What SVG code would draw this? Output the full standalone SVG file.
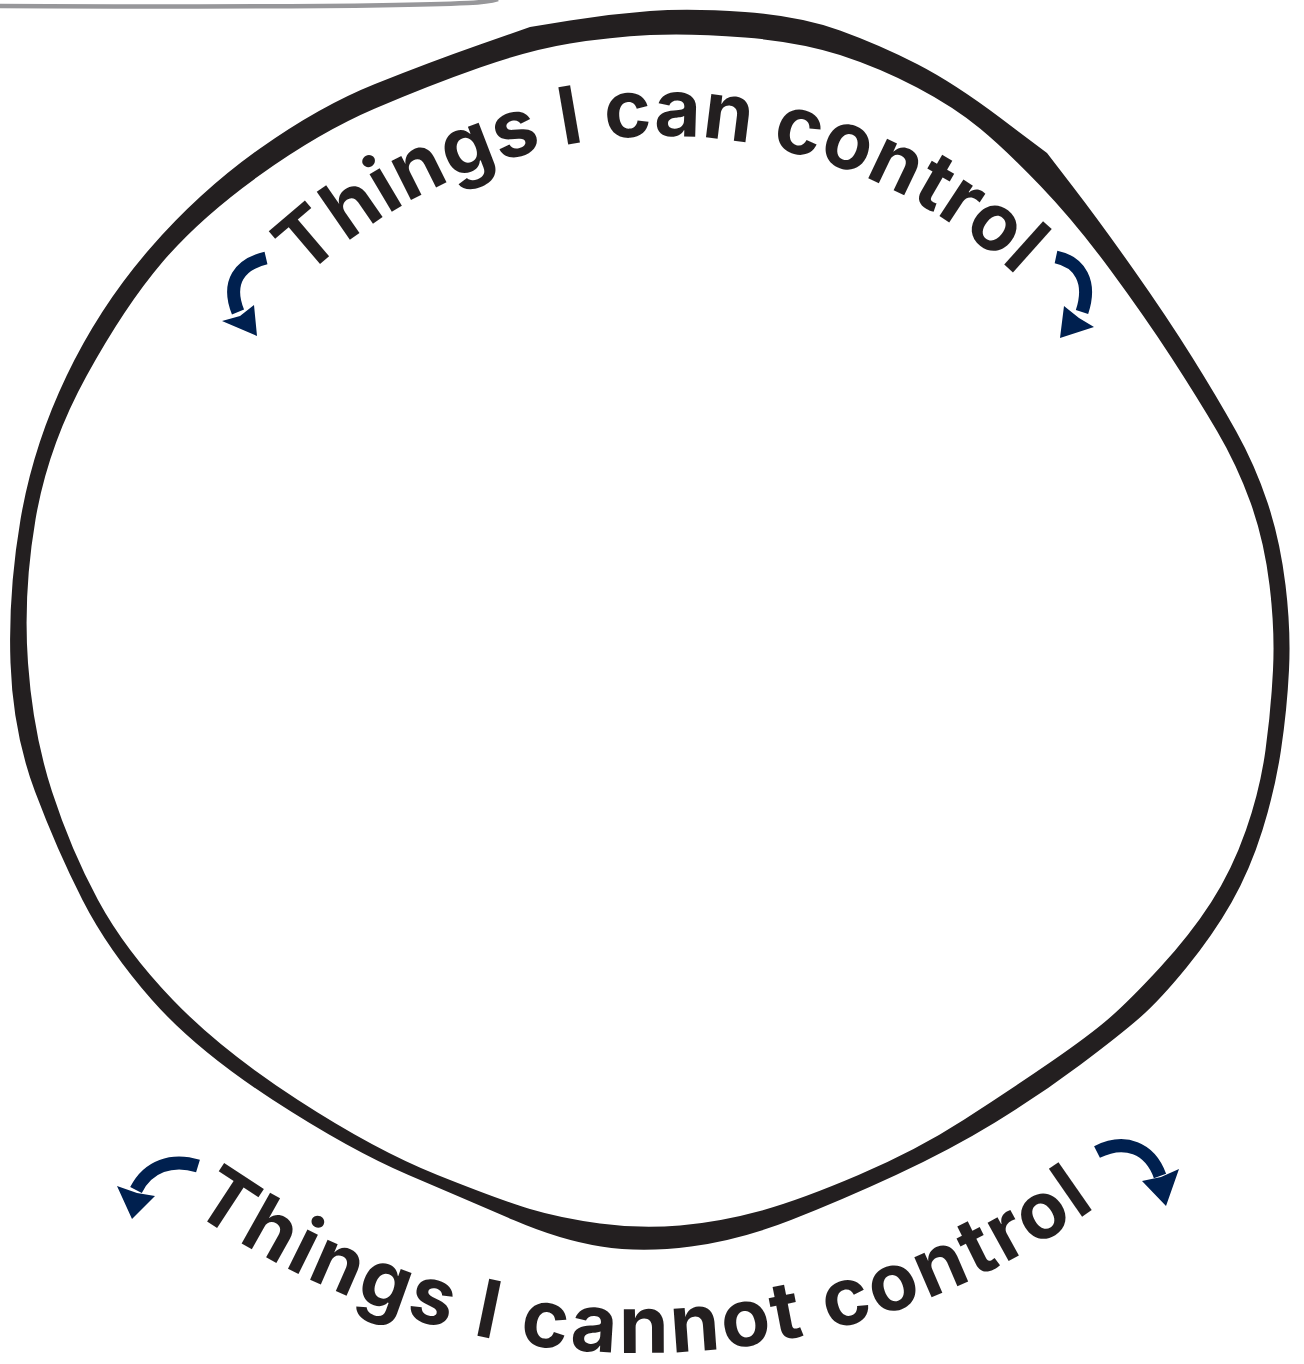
<svg xmlns="http://www.w3.org/2000/svg" width="1304" height="1364" viewBox="0 0 1304 1364">
<style>
.ring{fill:#231f20;fill-rule:evenodd}
.lbl{font-family:Inter,"Liberation Sans",sans-serif;font-weight:700;font-size:80px;fill:#231f20}
.arr{fill:none;stroke:#00204f;stroke-width:13;stroke-linecap:butt}
.head{fill:#00204f}
</style>
<defs>
<path id="topArc" d="M 142,656 A 520 520 0 0 1 1182,656"/>
<path id="botArc" d="M -140,572 A 781 781 0 0 0 1422,572"/>
</defs>
<rect width="1304" height="1364" fill="#ffffff"/>
<path d="M0,6 C 200,7 400,6 468,3 Q 488,2 498,-1" fill="none" stroke="#97979a" stroke-width="4.5"/>
<g id="ring">
<path class="ring" d="M 650,11 Q 690,8 745,12 Q 800,16 840,30.5 Q 880,45 917,64 Q 954,83 1000.5,118 L 1047,153 L 1073.5,187.5 Q 1100,222 1133.5,269.5 Q 1167,317 1192,357 Q 1217,397 1236,431 Q 1255,465 1267.5,502.5 Q 1280,540 1285.5,585 Q 1291,630 1289,670 Q 1287,710 1281,750 Q 1275,790 1262.5,830 Q 1250,870 1231.5,902.5 Q 1213,935 1186.5,967.5 Q 1160,1000 1140,1017.5 Q 1120,1035 1080,1065 Q 1040,1095 995,1122.5 Q 950,1150 896,1175 Q 842,1200 791,1220 Q 740,1240 691,1246.5 Q 642,1253 601,1246.5 Q 560,1240 513.5,1220 Q 467,1200 408.5,1175 Q 350,1150 273,1100 Q 196,1050 152,1000 Q 108,950 82.5,900 Q 57,850 35,791.5 Q 13,733 10.5,663 Q 8,593 20.5,519.5 Q 33,446 66.5,376 Q 100,306 150,248.5 Q 200,191 260,148.5 Q 320,106 375,84 Q 430,62 480,44.5 L 530,27 L 570,20.5 Q 610,14 650,11 Z
M 650,35 Q 690,33 745,37.5 Q 800,42 840,55 Q 880,68 917,87.5 Q 954,107 980,128.5 Q 1006,150 1040.5,186 Q 1075,222 1110,269.5 Q 1145,317 1171,357 Q 1197,397 1217,431 Q 1237,465 1250.5,502.5 Q 1264,540 1269.5,585 Q 1275,630 1273,670 Q 1271,710 1265.5,750 Q 1260,790 1246,830 Q 1232,870 1211,902.5 Q 1190,935 1160,967.5 Q 1130,1000 1110,1017.5 Q 1090,1035 1050,1062.5 Q 1010,1090 963.5,1120 Q 917,1150 858.5,1175 Q 800,1200 760,1211 Q 720,1222 680,1225.5 Q 640,1229 600,1223.5 Q 560,1218 530,1209 Q 500,1200 437.5,1175 Q 375,1150 298,1100 Q 221,1050 173,1000 Q 125,950 98,900 Q 71,850 52,791.5 Q 33,733 28,663 Q 23,593 35.5,519.5 Q 48,446 86.5,376 Q 125,306 162.5,262 Q 200,218 260,175 Q 320,132 375,108.5 Q 430,85 480,67.5 Q 530,50 570,43.5 Q 610,37 650,35 Z"/>
</g>
<g id="label-can">
<text class="lbl"><textPath href="#topArc" startOffset="423" textLength="784" lengthAdjust="spacing">Things I can control</textPath></text>
</g>
<g id="label-cannot">
<text class="lbl"><textPath href="#botArc" startOffset="746" textLength="966" lengthAdjust="spacing">Things I cannot control</textPath></text>
</g>
<g id="connectors">
<path class="arr" d="M 266,258 C 240,264 226,282 238,312"/>
<polygon class="head" points="222,321 240,316 254,305 257,336"/>
<path class="arr" d="M 1056,257 C 1080,262 1092,282 1082,312"/>
<polygon class="head" points="1064,306 1079,318 1094,327 1060,338"/>
<path class="arr" d="M 198,1166 C 172,1158 148,1166 136,1190"/>
<polygon class="head" points="117,1186 137,1193 155,1196 132,1219"/>
<path class="arr" d="M 1097,1152 C 1125,1138 1150,1148 1160,1176"/>
<polygon class="head" points="1142,1181 1161,1177 1179,1169 1166,1206"/>
</g>
</svg>
